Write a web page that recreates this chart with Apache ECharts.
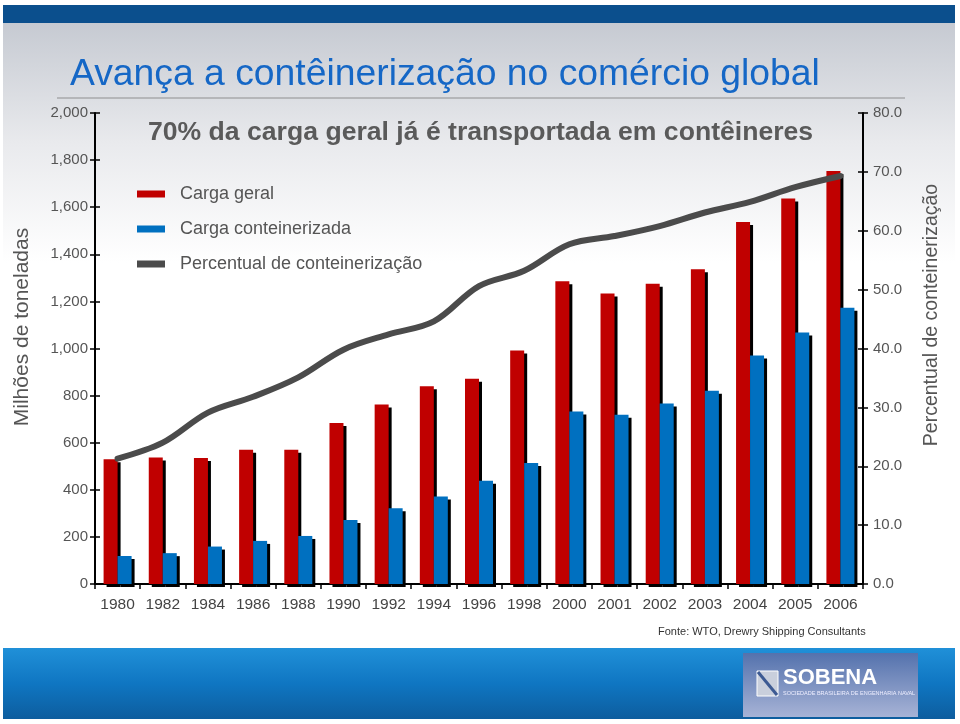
<!DOCTYPE html>
<html>
<head>
<meta charset="utf-8">
<script src="https://cdn.jsdelivr.net/npm/echarts@6/dist/echarts.min.js"></script>
<style>
html,body{margin:0;padding:0;background:#fff;}
#chart{width:960px;height:724px;}
</style>
</head>
<body>
<div id="chart"></div>
<script>
const categories = ['1980','1982','1984','1986','1988','1990','1992','1994','1996','1998','2000','2001','2002','2003','2004','2005','2006'];
const cargaGeral = [530,537,535,570,570,684,762,840,872,991,1286,1234,1275,1336,1537,1637,1754];
const cargaConteinerizada = [119,131,159,183,204,272,322,372,438,514,733,719,766,821,970,1068,1173];
const percentual = [21.3,24.0,29.1,31.8,35.1,39.8,42.4,44.6,50.6,53.2,57.7,59.1,60.8,63.1,64.9,67.4,69.3];
const leftTicks = {min:0, max:2000, interval:200};
const rightTicks = {min:0, max:80, interval:10};

const FONT = 'Liberation Sans, Arial, Helvetica, sans-serif';
const chart = echarts.init(document.getElementById('chart'), null, {renderer:'canvas'});

const barShadow = {shadowColor:'#000', shadowBlur:0, shadowOffsetX:3, shadowOffsetY:3};

const option = {
  backgroundColor:'#ffffff',
  animation:false,
  textStyle:{fontFamily:FONT},
  grid:{left:95, right:97, top:113, bottom:140, containLabel:false},
  legend:{
    orient:'vertical', left:137, top:185, itemWidth:28, itemHeight:7, itemGap:17,
    padding:0, icon:'rect',
    textStyle:{fontSize:18, color:'#555', fontFamily:FONT, padding:[0,0,0,10]},
    data:['Carga geral','Carga conteinerizada','Percentual de conteinerização']
  },
  xAxis:{
    type:'category', data:categories, boundaryGap:true,
    axisLine:{lineStyle:{color:'#000', width:2}},
    axisTick:{show:true, length:5, lineStyle:{color:'#000', width:1.5}},
    axisLabel:{fontSize:15.5, color:'#444', margin:13, interval:0, fontFamily:FONT},
    splitLine:{show:false}
  },
  yAxis:[
    {type:'value', position:'left', min:leftTicks.min, max:leftTicks.max, interval:leftTicks.interval,
     axisLine:{show:true, lineStyle:{color:'#000', width:2}},
     axisTick:{show:true, length:5, lineStyle:{color:'#000', width:1.5}},
     axisLabel:{fontSize:15, color:'#555', margin:7, fontFamily:FONT,
       formatter:v=>v.toLocaleString('en-US')},
     splitLine:{show:false}},
    {type:'value', position:'right', min:rightTicks.min, max:rightTicks.max, interval:rightTicks.interval,
     axisLine:{show:true, lineStyle:{color:'#000', width:2}},
     axisTick:{show:true, length:5, lineStyle:{color:'#000', width:1.5}},
     axisLabel:{fontSize:15, color:'#555', margin:10, fontFamily:FONT,
       formatter:v=>v.toFixed(1)},
     splitLine:{show:false}},
    {type:'value', position:'left', min:leftTicks.min, max:leftTicks.max, interval:leftTicks.interval,
     axisLine:{show:false}, axisLabel:{show:false}, splitLine:{show:false},
     axisTick:{show:true, inside:true, length:5, lineStyle:{color:'#000', width:1.5}}},
    {type:'value', position:'right', min:rightTicks.min, max:rightTicks.max, interval:rightTicks.interval,
     axisLine:{show:false}, axisLabel:{show:false}, splitLine:{show:false},
     axisTick:{show:true, inside:true, length:5, lineStyle:{color:'#000', width:1.5}}}
  ],
  series:[
    {name:'Carga geral', type:'bar', yAxisIndex:0, data:cargaGeral, barWidth:14, barGap:'0%',
     itemStyle:Object.assign({color:'#c00000'}, barShadow)},
    {name:'Carga conteinerizada', type:'bar', yAxisIndex:0, data:cargaConteinerizada, barWidth:14, barGap:'0%',
     itemStyle:Object.assign({color:'#0070c0'}, barShadow)},
    {name:'Percentual de conteinerização', type:'line', yAxisIndex:1, data:percentual,
     smooth:0.35, symbol:'none', z:5,
     lineStyle:{color:'#4b4b4b', width:6, cap:'round'},
     itemStyle:{color:'#4b4b4b'}}
  ],
  graphic:[
    {type:'rect', z:-20, silent:true, shape:{x:3, y:5, width:952, height:18}, style:{fill:'#0b4f8d'}},
    {type:'rect', z:-20, silent:true, shape:{x:3, y:23, width:952, height:240},
     style:{fill:new echarts.graphic.LinearGradient(0,0,0,1,[{offset:0,color:'#c6cad2'},{offset:0.5,color:'#e9eaed'},{offset:1,color:'#ffffff'}])}},
    {type:'text', z:10, left:70, top:56, style:{text:'Avança a contêinerização no comércio global', fontSize:37.3, fontFamily:FONT, fill:'#1567c6'}},
    {type:'line', z:10, shape:{x1:57, y1:98, x2:905, y2:98}, style:{stroke:'#a9a9ab', lineWidth:1.5}},
    {type:'text', z:10, left:148, top:119, style:{text:'70% da carga geral já é transportada em contêineres', fontSize:26.6, fontWeight:'bold', fontFamily:FONT, fill:'#5a5a5a'}},
    {type:'text', z:10, x:22, y:327, rotation:Math.PI/2, style:{text:'Milhões de toneladas', fontSize:21, fontFamily:FONT, fill:'#555', align:'center', verticalAlign:'middle'}},
    {type:'text', z:10, x:932, y:315, rotation:Math.PI/2, style:{text:'Percentual de conteinerização', fontSize:19.5, fontFamily:FONT, fill:'#555', align:'center', verticalAlign:'middle'}},
    {type:'text', z:10, left:658, top:626, style:{text:'Fonte: WTO, Drewry Shipping Consultants', fontSize:11, fontFamily:FONT, fill:'#333'}},
    {type:'rect', z:-20, silent:true, shape:{x:3, y:648, width:952, height:71},
     style:{fill:new echarts.graphic.LinearGradient(0,0,0,1,[{offset:0,color:'#2090d8'},{offset:0.5,color:'#0f76c2'},{offset:1,color:'#0d5d9e'}])}},
    {type:'rect', z:-19, silent:true, shape:{x:743, y:653, width:175, height:64},
     style:{fill:new echarts.graphic.LinearGradient(0,0,0,1,[{offset:0,color:'#5472ad'},{offset:1,color:'#a7b3d6'}])}},
    {type:'rect', z:-18, silent:true, shape:{x:757, y:671, width:21, height:25}, style:{fill:'#c9cfdc', stroke:'#ffffff', lineWidth:1}},
    {type:'line', z:-17, silent:true, shape:{x1:758, y1:672, x2:777, y2:695}, style:{stroke:'#3d5a93', lineWidth:3}},
    {type:'text', z:10, left:783, top:667, style:{text:'SOBENA', fontSize:22, fontWeight:'bold', fontFamily:FONT, fill:'#ffffff'}},
    {type:'text', z:10, left:783, top:690, style:{text:'SOCIEDADE BRASILEIRA DE ENGENHARIA NAVAL', fontSize:5.5, fontFamily:FONT, fill:'#eef'}}
  ]
};
chart.setOption(option);
</script>
</body>
</html>
